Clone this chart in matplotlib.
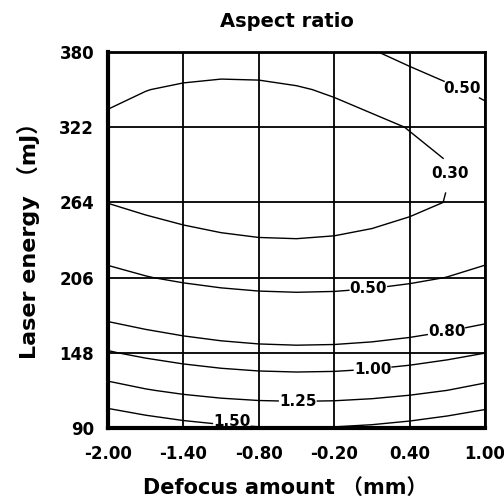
import numpy as np
import matplotlib
matplotlib.use("Agg")
import matplotlib.pyplot as plt

# contour points: (defocus mm, laser energy mJ)
lv_030_x = [-1.97, -1.40, -1.24, -0.79, -0.21, 0.11, 0.40, 0.56, 0.72, 0.73, 0.64, 0.40, 0.00, -0.26, -0.79, -1.06, -1.40, -1.97]
lv_030_y = [342, 356, 358, 358, 349, 340, 325, 312, 297, 275, 261, 249, 239, 234, 234, 235, 241, 257]
lv_050a_x = [0.08, 0.40, 0.59, 0.96, 1.00]
lv_050a_y = [379, 371, 364, 344, 342]
lv_050b_x = [-1.97, -1.40, -0.79, -0.21, 0.40, 0.97]
lv_050b_y = [216, 207, 202, 201, 204, 212]
lv_080_x = [-1.97, -1.40, -0.79, -0.05, 0.40, 0.97]
lv_080_y = [171, 161, 153, 153, 158, 171]
lv_100_x = [-1.97, -1.40, -0.95, -0.53, 0.40, 0.97]
lv_100_y = [148, 139, 130, 129, 137, 147]
lv_125_x = [-1.97, -1.40, -0.79, -0.26, 0.40, 0.97]
lv_125_y = [124, 117, 110, 109, 116, 122]
lv_150_x = [-1.97, -1.40, -0.82, -0.07, 0.40, 0.97]
lv_150_y = [104, 97, 92, 92, 97, 103]

levels = [0.30, 0.50, 0.80, 1.00, 1.25, 1.50]
x_ticks = [-2.00, -1.40, -0.80, -0.20, 0.40, 1.00]
y_ticks = [90, 148, 206, 264, 322, 380]

pts = [(0.30, lv_030_x, lv_030_y), (0.50, lv_050a_x, lv_050a_y),
       (0.50, lv_050b_x, lv_050b_y), (0.80, lv_080_x, lv_080_y),
       (1.00, lv_100_x, lv_100_y), (1.25, lv_125_x, lv_125_y),
       (1.50, lv_150_x, lv_150_y)]

X, Y, Z = [], [], []
for z, xs, ys in pts:
    X += xs
    Y += ys
    Z += [z] * len(xs)
X = np.array(X); Y = np.array(Y); Z = np.array(Z)


def scale(x, y):
    return (x + 0.5) / 1.5, (y - 235.0) / 145.0


def terms(x, y):
    u, v = scale(x, y)
    return np.stack([u ** i * v ** j for i in range(3) for j in range(4)], axis=-1)


# response surface fitted through the read points
coef, *_ = np.linalg.lstsq(terms(X, Y), Z, rcond=None)

gx = np.linspace(-2, 1, 11)
gy = np.linspace(90, 380, 11)
GX, GY = np.meshgrid(gx, gy)
GZ = terms(GX, GY) @ coef

fig = plt.figure(figsize=(5.04, 5.01), dpi=100)
ax = fig.add_axes([0.2143, 0.1457, 0.748, 0.7505])

cs = ax.contour(GX, GY, GZ, levels=levels, colors="black", linewidths=1.0)
lab_pos = [(0.72, 286), (0.82, 352), (0.07, 200), (0.70, 161),
           (0.11, 131), (-0.49, 111), (-1.01, 98)]
txts = ax.clabel(cs, fmt="%.2f", fontsize=11, inline=True, inline_spacing=2, manual=lab_pos)
for t in txts:
    t.set_fontweight("bold")
    t.set_family("DejaVu Sans")
    t.set_rotation(0)
    if t.get_text() == "1.50":
        px, py = t.get_position()
        t.set_position((px, py + 3))

ax.set_xlim(-2, 1)
ax.set_ylim(90, 380)
ax.set_xticks(x_ticks)
ax.set_xticklabels(["%.2f" % v for v in x_ticks])
ax.set_yticks(y_ticks)
ax.set_yticklabels([str(v) for v in y_ticks])
ax.tick_params(length=0, labelsize=12)
ax.tick_params(axis="x", pad=12)
ax.tick_params(axis="y", pad=10)
for t in ax.get_xticklabels() + ax.get_yticklabels():
    t.set_fontweight("bold")
    t.set_family("DejaVu Sans")
ax.grid(True, color="black", linewidth=1.3)
ax.set_axisbelow(False)
for side in ["left", "bottom"]:
    ax.spines[side].set_linewidth(3)
for side in ["top", "right"]:
    ax.spines[side].set_linewidth(2)

fam = ["DejaVu Sans", "Noto Sans CJK SC"]
fig.text(0.57, 0.958, "Aspect ratio", ha="center", va="center",
         fontsize=14, fontweight="bold", family="DejaVu Sans")
fig.text(0.566, 0.026, "Defocus amount （mm）", ha="center", va="center",
         fontsize=15, fontweight="bold", family=fam)
fig.text(0.056, 0.531, "Laser energy （mJ）", ha="center", va="center",
         rotation=90, fontsize=16, fontweight="bold", family=fam)

fig.savefig("out.png", dpi=100)
